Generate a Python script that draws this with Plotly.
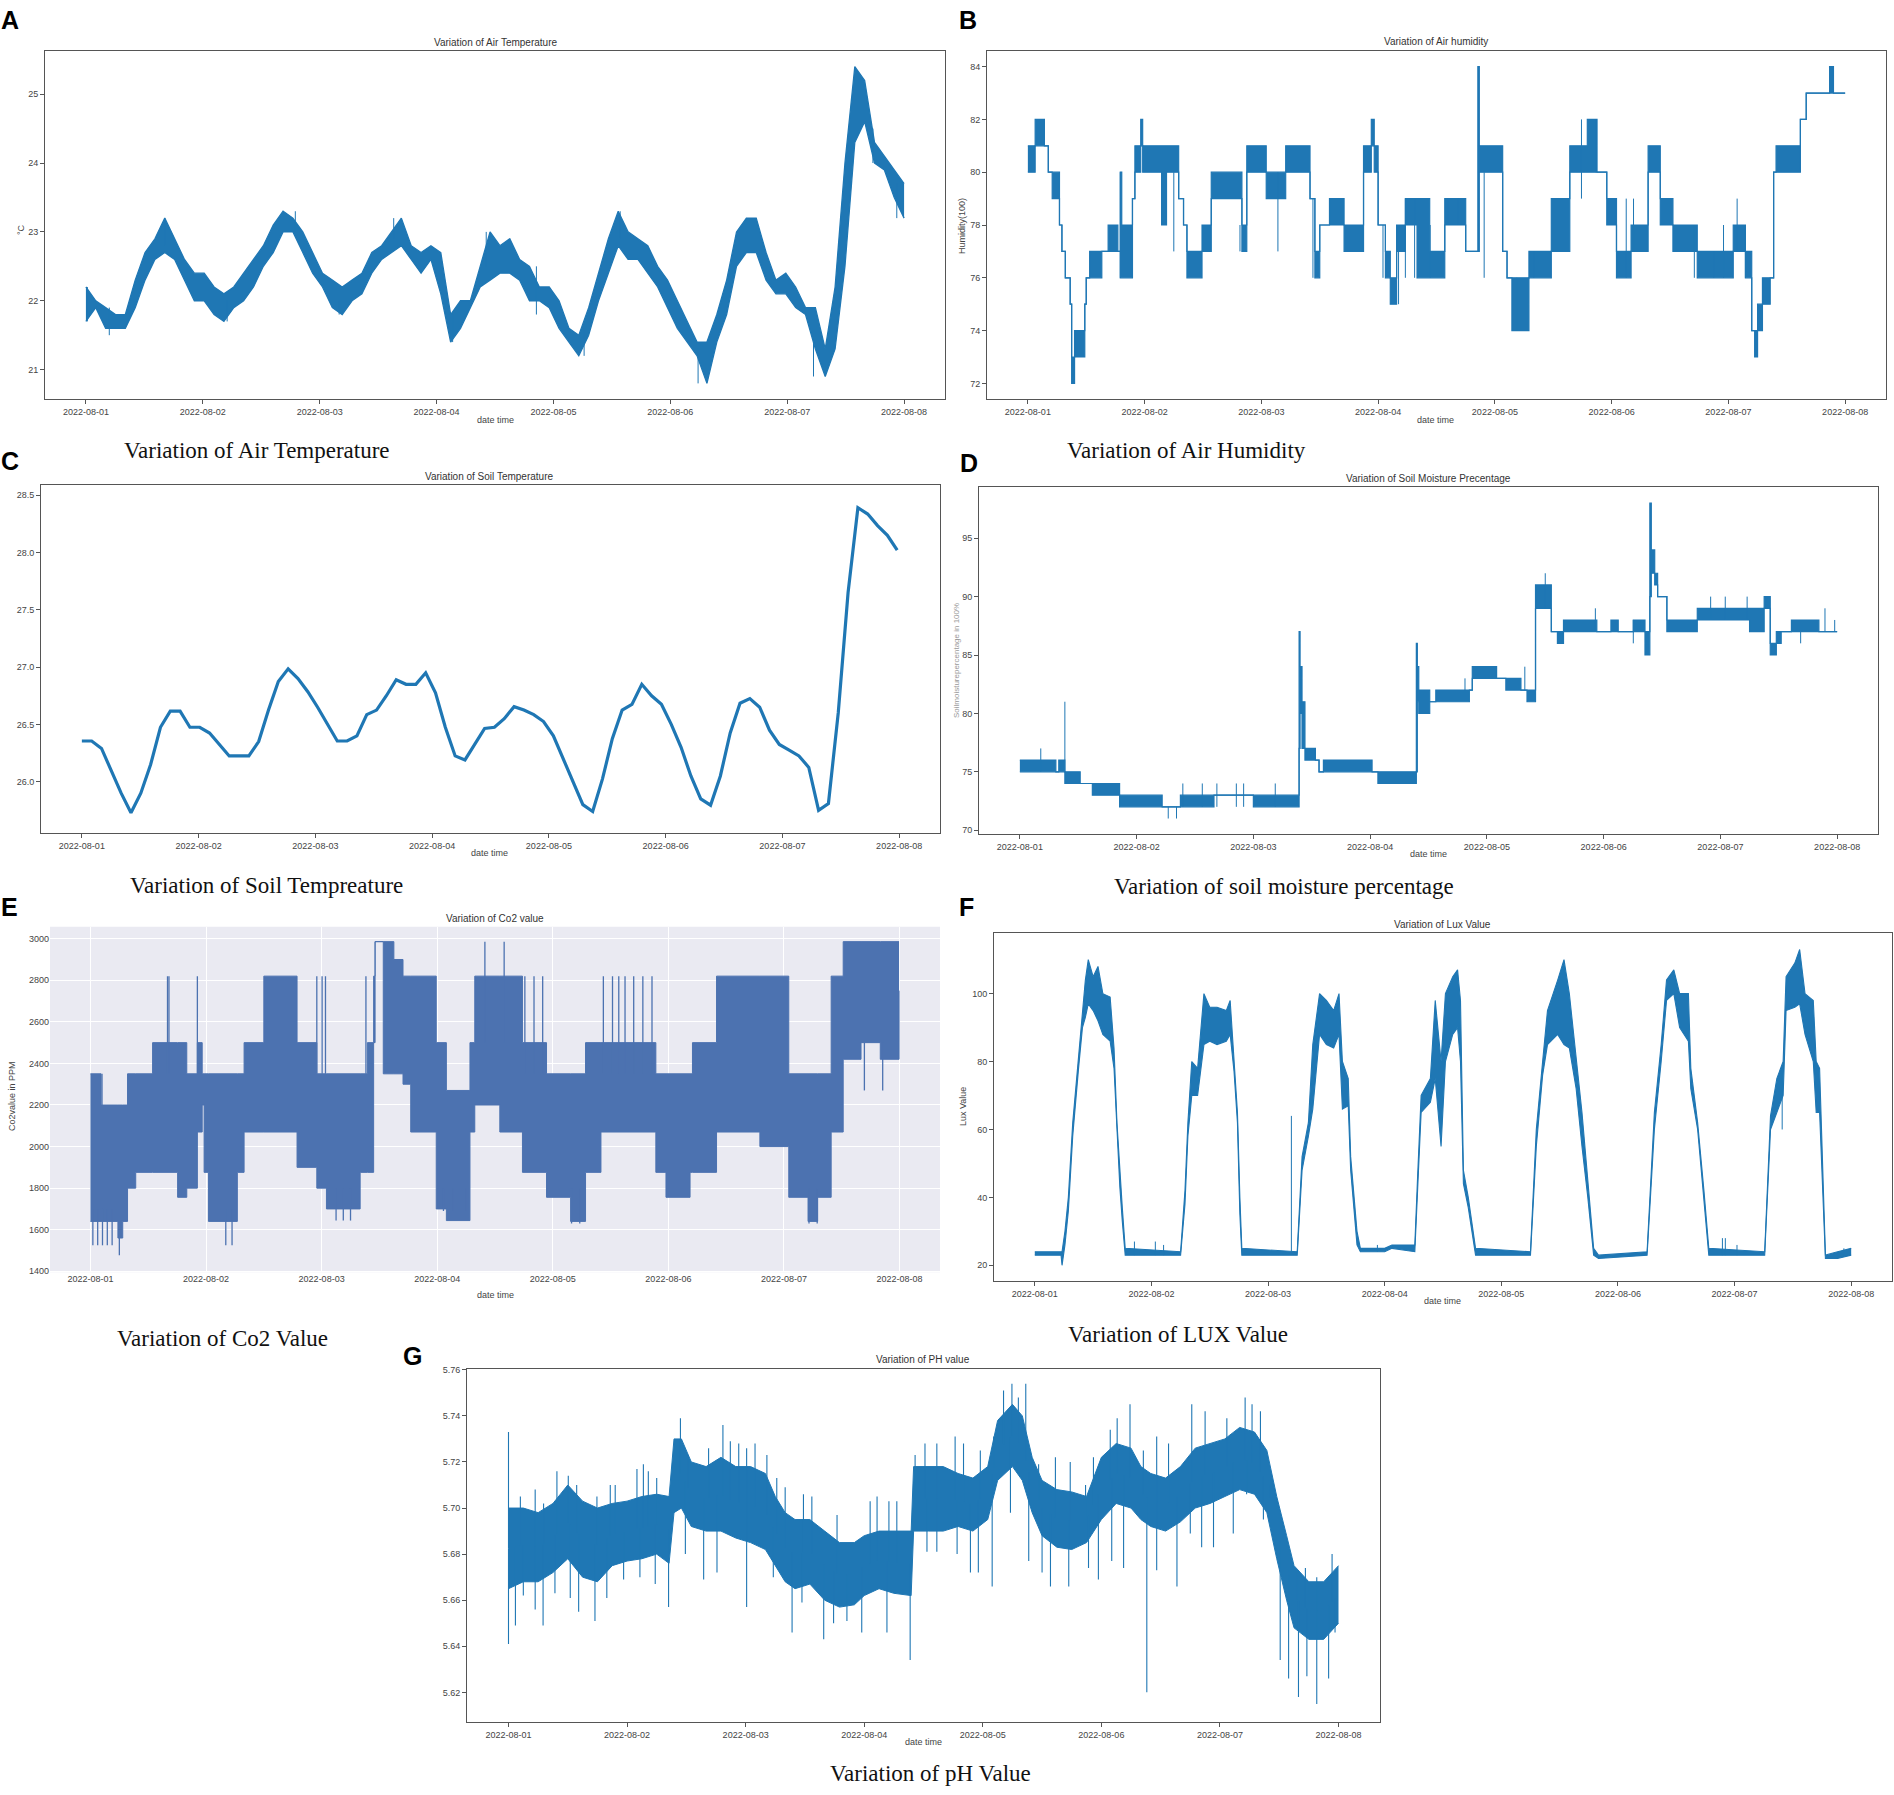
import numpy as np
import pandas as pd
import plotly.graph_objects as go

W, H = 1894, 1795
START = pd.Timestamp("2022-08-01")

date_ticks = ["2022-08-01", "2022-08-02", "2022-08-03", "2022-08-04",
              "2022-08-05", "2022-08-06", "2022-08-07", "2022-08-08"]

# ---------------- A: air temperature (2-hour bins, low/high of readings) ----------------
air_temp_lo = [21.7, 21.9, 21.6, 21.6, 21.6, 21.9, 22.3, 22.6, 22.7, 22.6, 22.3, 22.0,
               22.0, 21.8, 21.7, 21.9, 22.0, 22.2, 22.5, 22.7, 23.0, 23.0, 22.7, 22.4,
               22.2, 21.9, 21.8, 22.0, 22.1, 22.4, 22.6, 22.7, 22.8, 22.6, 22.4, 22.6,
               22.1, 21.4, 21.6, 21.9, 22.2, 22.3, 22.4, 22.4, 22.3, 22.0, 22.0, 21.9,
               21.6, 21.4, 21.2, 21.5, 22.0, 22.4, 22.8, 22.6, 22.6, 22.4, 22.2, 21.9,
               21.6, 21.4, 21.2, 20.8, 21.4, 21.8, 22.5, 22.7, 22.7, 22.3, 22.1, 22.1,
               21.9, 21.8, 21.3, 20.9, 21.3, 22.5, 24.3, 24.6, 24.0, 23.9, 23.5, 23.2]
air_temp_hi = [22.2, 22.0, 21.9, 21.8, 21.8, 22.3, 22.7, 22.9, 23.2, 22.9, 22.6, 22.4,
               22.4, 22.2, 22.1, 22.2, 22.4, 22.6, 22.8, 23.1, 23.3, 23.2, 23.0, 22.7,
               22.4, 22.3, 22.2, 22.3, 22.4, 22.7, 22.8, 23.0, 23.2, 22.8, 22.7, 22.8,
               22.7, 21.8, 22.0, 22.0, 22.5, 23.0, 22.8, 22.9, 22.6, 22.5, 22.2, 22.2,
               22.0, 21.6, 21.5, 21.9, 22.4, 22.9, 23.3, 23.0, 22.9, 22.8, 22.5, 22.3,
               22.0, 21.7, 21.4, 21.4, 21.8, 22.3, 23.0, 23.2, 23.2, 22.7, 22.3, 22.4,
               22.2, 21.9, 21.9, 21.3, 22.2, 24.0, 25.4, 25.2, 24.3, 24.1, 23.9, 23.7]
air_temp_spike_h = [0.3, 4.8, 16.2, 29.0, 43.0, 52.0, 63.2, 75.3, 82.2, 92.5, 102.3, 109.7, 125.7, 149.4, 161.6, 166.5]
air_temp_spike_lo = [21.7, 21.5, 22.8, 21.7, 23.0, 21.8, 22.9, 21.4, 22.5, 21.8, 21.2, 22.9, 20.8, 20.9, 24.0, 23.2]
air_temp_spike_hi = [22.2, 21.9, 23.2, 22.0, 23.3, 22.0, 23.2, 21.8, 23.0, 22.5, 21.6, 23.3, 21.3, 21.4, 24.5, 23.7]

# ---------------- B: air humidity (step readings) ----------------
hum_h = [0, 1.5, 3.4, 4.2, 5, 6.5, 7, 7.7, 8.7, 9, 9.6, 11.7, 12, 12.7, 15.2, 16.5, 18.5, 19, 19.3, 21.5,
         22, 23.2, 23.6, 27.5, 28.5, 31, 32, 32.7, 35.8, 37.7, 44, 45, 49, 53, 58, 59, 60, 62, 65, 69,
         70.6, 71.2, 72, 73.5, 74.5, 75.8, 77.6, 80, 82.6, 85.7, 90, 92.5, 92.8, 97.6, 98.5, 99.5, 103, 107.6, 111.4, 115,
         117, 119, 121, 124, 127.5, 130, 132.6, 137.6, 145, 147.5, 148.8, 149.4, 150, 151, 152.6, 153.3, 153.8, 158.8, 160, 164.8,
         165.6, 168]
hum_lo = [80, 81, 81, 80, 79, 78, 77, 76, 75, 72, 73, 75, 76, 76, 77, 77, 77, 76, 76, 79,
          80, 81, 80, 78, 80, 79, 78, 76, 77, 79, 77, 80, 79, 80, 79, 76, 78, 78, 77, 80,
          81, 80, 78, 76, 75, 77, 78, 76, 76, 78, 77, 77, 80, 77, 76, 74, 76, 77, 80, 80,
          80, 78, 76, 77, 80, 78, 77, 76, 77, 76, 74, 73, 74, 75, 76, 80, 80, 82, 83, 83,
          83, 83]
hum_hi = [81, 82, 81, 80, 80, 78, 77, 76, 75, 73, 74, 75, 76, 77, 77, 78, 77, 80, 78, 79,
          81, 82, 81, 81, 81, 79, 78, 77, 78, 80, 78, 81, 80, 81, 79, 77, 78, 79, 78, 81,
          82, 81, 78, 77, 76, 78, 79, 79, 77, 79, 77, 84, 81, 77, 76, 76, 77, 79, 81, 82,
          80, 79, 77, 78, 81, 79, 78, 77, 78, 77, 74, 74, 75, 76, 76, 80, 81, 82, 83, 84,
          83, 83]
hum_spike_h = [19.0, 27.5, 30.0, 43.6, 51.4, 58.6, 73.0, 76.2, 77.6, 79.5, 82.7, 86.3, 88.5, 93.8, 100.5,
               104.0, 113.8, 116.7, 123.0, 124.5, 137.0, 141.0, 143.0, 145.8, 147.5, 165.0]
hum_spike_lo = [76, 78, 77, 77, 77, 76, 76, 75, 76, 76, 76, 78, 78, 76, 74, 76, 79, 80, 76, 77, 76, 76, 76, 77, 76, 83]
hum_spike_hi = [80, 80, 80, 78, 80, 79, 78, 78, 79, 79, 78, 79, 79, 80, 76, 77, 82, 82, 79, 79, 78, 77, 78, 79, 78, 84]

# ---------------- C: soil temperature (2-hour bins) ----------------
soil_temp_lo = [26.33, 26.33, 26.25, 26.05, 25.85, 25.70, 25.85, 26.10, 26.40, 26.60, 26.60, 26.45,
                26.45, 26.40, 26.30, 26.20, 26.20, 26.20, 26.30, 26.55, 26.80, 26.97, 26.85, 26.75,
                26.60, 26.45, 26.33, 26.33, 26.35, 26.55, 26.60, 26.70, 26.85, 26.82, 26.82, 26.90,
                26.70, 26.40, 26.20, 26.13, 26.30, 26.43, 26.45, 26.50, 26.63, 26.60, 26.55, 26.50,
                26.35, 26.15, 25.95, 25.75, 25.70, 25.95, 26.30, 26.60, 26.65, 26.82, 26.72, 26.65,
                26.45, 26.25, 26.00, 25.80, 25.77, 26.00, 26.35, 26.65, 26.70, 26.60, 26.40, 26.30,
                26.25, 26.20, 26.10, 25.70, 25.77, 26.30, 27.30, 28.35, 28.30, 28.20, 28.12, 28.02]
soil_temp_hi = [26.38, 26.38, 26.33, 26.15, 25.95, 25.76, 25.95, 26.20, 26.55, 26.63, 26.63, 26.50,
                26.50, 26.45, 26.35, 26.25, 26.25, 26.25, 26.40, 26.70, 26.95, 27.00, 26.95, 26.82,
                26.70, 26.55, 26.38, 26.38, 26.45, 26.62, 26.65, 26.80, 26.93, 26.88, 26.88, 27.00,
                26.85, 26.55, 26.25, 26.25, 26.35, 26.50, 26.50, 26.60, 26.68, 26.65, 26.62, 26.55,
                26.45, 26.25, 26.05, 25.85, 25.78, 26.10, 26.45, 26.65, 26.70, 26.88, 26.78, 26.70,
                26.55, 26.35, 26.10, 25.90, 25.82, 26.10, 26.50, 26.72, 26.75, 26.70, 26.50, 26.35,
                26.30, 26.25, 26.15, 25.80, 25.85, 26.90, 28.00, 28.43, 28.37, 28.27, 28.18, 28.02]

# ---------------- D: soil moisture (step readings) ----------------
moist_h = [0, 7.4, 8, 9.25, 12.4, 14.9, 20.5, 29.25, 33, 39.9, 48, 57.4, 57.6, 58, 58.6, 60.75, 61.5, 62.4, 72.4, 73.6,
           81.5, 81.7, 82, 84.25, 85.5, 92.4, 93, 98, 99.9, 103, 104.25, 106, 107.5, 109.25, 110.5, 111.75, 118.6, 121.5, 123, 126.1,
           128.5, 129.5, 129.8, 130.5, 131.1, 133, 139.25, 146.75, 150, 153, 154.25, 155.5, 156.5, 158.6, 164.25, 168]
moist_lo = [75, 75, 75, 74, 74, 73, 72, 72, 72, 73, 72, 77, 80, 77, 76, 76, 75, 75, 75, 74,
            75, 81, 80, 81, 81, 82, 83, 83, 82, 82, 81, 89, 89, 87, 86, 87, 87, 87, 87, 87,
            85, 90, 92, 91, 90, 87, 88, 88, 87, 89, 85, 86, 87, 87, 87, 87]
moist_hi = [76, 75, 76, 75, 74, 74, 73, 72, 73, 73, 73, 87, 84, 81, 77, 76, 75, 76, 75, 75,
            86, 84, 82, 81, 82, 82, 84, 83, 83, 82, 82, 91, 91, 87, 87, 88, 87, 88, 87, 88,
            87, 98, 94, 92, 90, 88, 89, 89, 89, 90, 86, 87, 87, 88, 87, 87]
moist_spike_h = [4.3, 9.25, 30.5, 32.2, 33.5, 37.5, 40.5, 44.5, 46.0, 52.5, 81.6, 91.5, 103.8, 108.0,
                 118.3, 126.1, 128.8, 142.0, 145.0, 149.5, 160.5, 165.5, 167.5]
moist_spike_lo = [75, 75, 71, 71, 72, 72, 72, 72, 72, 72, 80, 82, 82, 89, 87, 86, 85, 88, 88, 88, 86, 87, 87]
moist_spike_hi = [77, 81, 72, 72, 74, 74, 74, 74, 74, 74, 86, 83, 84, 92, 89, 88, 87, 90, 90, 90, 87, 89, 88]

# ---------------- E: CO2 (step envelope of readings) ----------------
co2_h = [0, 2.2, 5.7, 6.7, 7.7, 9.4, 12.9, 18.1, 20, 22.2, 23.2, 23.6, 24.5, 30.5, 31.9, 36, 42.9, 47, 49, 56,
         57.5, 58.8, 59.1, 60.8, 63, 64.9, 66.5, 71.8, 73.9, 78.8, 79.8, 85, 89.7, 94.7, 99.7, 102.8, 106, 117.4, 119.5, 124.5,
         125, 130, 139, 145, 149, 151, 153.8, 156.3, 160, 164, 167.9]
co2_lo = [1640, 1640, 1560, 1640, 1800, 1876, 1876, 1756, 1800, 2070, 2200, 1876, 1640, 1876, 2070, 2070, 1900, 1800, 1700, 1876,
          1876, 2500, 2986, 2350, 2350, 2300, 2070, 1700, 1644, 2070, 2200, 2070, 1876, 1756, 1640, 1876, 2070, 1876, 1756, 1876,
          1876, 2070, 2000, 1756, 1640, 1756, 2070, 2420, 2500, 2420, 2750]
co2_hi = [2350, 2200, 2200, 2200, 2350, 2350, 2500, 2500, 2350, 2500, 2350, 2350, 2350, 2350, 2500, 2820, 2500, 2350, 2350, 2350,
          2500, 2820, 2986, 2986, 2900, 2820, 2820, 2500, 2270, 2500, 2820, 2820, 2500, 2350, 2350, 2500, 2500, 2350, 2350, 2350,
          2500, 2820, 2820, 2350, 2350, 2350, 2820, 2986, 2986, 2986, 2986]
co2_spike_h = [16.0, 16.3, 22.2, 47.0, 48.1, 48.8, 57.2, 81.9, 85.9, 90.2, 92.1, 93.9,
               106.5, 108.4, 109.7, 111.0, 112.8, 114.7, 116.6, 2.4,
               0.5, 1.5, 2.5, 3.5, 4.5, 6.0, 28.1, 29.4, 51.0, 52.5, 54.0, 73.3, 75.3, 78.0,
               99.9, 101.6, 149.2, 150.9, 160.7, 164.5]
co2_spike_lo = [2350, 2350, 2350, 2350, 2350, 2350, 2350, 2500, 2500, 2350, 2350, 2350,
                2350, 2350, 2350, 2350, 2350, 2350, 2350, 2200,
                1525, 1525, 1525, 1525, 1525, 1477, 1525, 1525, 1644, 1644, 1644, 1690, 1690, 1690,
                1630, 1630, 1630, 1630, 2270, 2270]
co2_spike_hi = [2820, 2820, 2820, 2820, 2820, 2820, 2820, 2986, 2986, 2820, 2820, 2820,
                2820, 2820, 2820, 2820, 2820, 2820, 2820, 2350,
                1700, 1700, 1700, 1700, 1700, 1600, 1700, 1700, 1800, 1800, 1800, 1800, 1800, 1800,
                1800, 1800, 1800, 1800, 2500, 2500]

# ---------------- F: lux ----------------
lux_h = [0, 5.4, 5.6, 6.2, 6.9, 7.8, 9, 9.8, 10.4, 11, 12, 13, 14, 15.5, 16.3, 16.9, 17.5, 18, 18.6, 30,
         30.9, 31.5, 32.3, 33.5, 34.8, 36, 37.5, 39.4, 40.2, 41, 41.7, 42.2, 42.6, 54, 55, 56.3, 57.2, 58.6, 60, 61.5,
         62.6, 63.3, 64.5, 65, 66.3, 67, 72, 73.5, 78.2, 78.8, 79.5, 81.4, 82.4, 83.6, 84.5, 86, 87, 87.6, 88.2, 89.2,
         90.7, 102, 103.2, 104.5, 105.5, 107.6, 108.9, 110, 111.4, 112.6, 113.8, 115, 116, 126, 127.5, 128.9, 130, 131.5, 132.7, 134.5,
         135, 136.4, 137.7, 138.7, 150.2, 151.4, 152.7, 154, 154.6, 156.4, 157.4, 158.5, 160.2, 160.8, 161.5, 162.2, 162.7, 165.2, 168]
lux_lo = [23, 23, 20, 26, 36, 58, 78, 90, 93, 97, 95, 92, 88, 86, 78, 58, 43, 33, 23, 23,
          38, 58, 70, 70, 85, 86, 85, 86, 88, 77, 62, 35, 23, 23, 48, 58, 66, 88, 85, 84,
          88, 66, 67, 48, 26, 24, 24, 25, 24, 43, 65, 68, 75, 55, 80, 88, 90, 80, 44, 37,
          23, 23, 55, 76, 85, 88, 85, 84, 72, 55, 40, 23, 22, 23, 60, 80, 98, 100, 90, 86,
          72, 60, 38, 23, 23, 60, 65, 70, 95, 96, 97, 88, 80, 65, 65, 40, 22, 22, 23]
lux_hi = [24, 24, 24, 30, 40, 62, 82, 95, 104, 110, 105, 108, 100, 99, 84, 62, 47, 37, 25, 24,
          42, 62, 80, 78, 100, 96, 96, 95, 98, 82, 65, 40, 25, 24, 52, 62, 85, 100, 98, 95,
          100, 80, 75, 52, 30, 25, 25, 26, 26, 47, 70, 75, 98, 80, 100, 105, 107, 98, 48, 40,
          25, 24, 60, 80, 95, 104, 110, 100, 80, 65, 45, 25, 23, 24, 65, 85, 104, 107, 100, 100,
          78, 62, 42, 25, 24, 64, 75, 80, 105, 109, 113, 100, 98, 80, 78, 42, 23, 24, 25]
lux_spike_h = [20.5, 24.8, 26.5, 52.8, 70.5, 141.5, 142.1, 144.5, 153.8, 166.5]
lux_spike_lo = [23, 23, 23, 24, 24, 23, 23, 23, 60, 23]
lux_spike_hi = [27, 27, 26, 64, 26, 28, 28, 26, 75, 25]

# ---------------- G: pH (dense band + spike tips) ----------------
ph_h = [0, 3, 6, 9, 12, 15, 18, 21, 24, 27, 30, 32.5, 33.5, 35, 37, 40, 43, 46, 49, 52,
        54, 56, 58, 61, 64, 67, 70, 72, 75, 78, 81.5, 82, 85, 88, 91, 94, 97, 99, 102, 104,
        106, 108, 111, 114, 117, 120, 123, 126, 128, 130, 133, 136, 139, 142, 145, 148, 151, 153.5, 155.5, 157.5,
        159, 162, 165, 168]
ph_lo = [5.665, 5.668, 5.668, 5.672, 5.678, 5.670, 5.668, 5.675, 5.677, 5.678,
         5.680, 5.676, 5.698, 5.700, 5.692, 5.690, 5.690, 5.687, 5.685, 5.682,
         5.675, 5.668, 5.665, 5.667, 5.660, 5.657, 5.658, 5.662, 5.665, 5.663,
         5.662, 5.690, 5.690, 5.690, 5.692, 5.690, 5.695, 5.712, 5.718, 5.712,
         5.698, 5.688, 5.683, 5.682, 5.685, 5.695, 5.702, 5.700, 5.695, 5.692,
         5.690, 5.694, 5.700, 5.702, 5.705, 5.708, 5.706, 5.698, 5.678, 5.660,
         5.648, 5.643, 5.643, 5.650]
ph_hi = [5.700, 5.700, 5.698, 5.702, 5.710, 5.703, 5.700, 5.702, 5.703, 5.705,
         5.706, 5.705, 5.730, 5.730, 5.720, 5.718, 5.722, 5.718, 5.718, 5.715,
         5.705, 5.698, 5.695, 5.695, 5.690, 5.685, 5.685, 5.688, 5.690, 5.690,
         5.690, 5.718, 5.718, 5.718, 5.715, 5.713, 5.718, 5.738, 5.745, 5.740,
         5.722, 5.712, 5.708, 5.707, 5.705, 5.722, 5.728, 5.726, 5.718, 5.715,
         5.713, 5.718, 5.726, 5.728, 5.730, 5.735, 5.733, 5.725, 5.705, 5.688,
         5.675, 5.668, 5.668, 5.675]
ph_top_h = [0.0, 2.4, 5.4, 7.1, 9.8, 12.1, 13.8, 17.9, 20.6, 21.6, 26.0, 27.3, 28.3, 30.0, 34.8, 36.4,
            40.5, 43.4, 44.9, 46.6, 48.2, 49.9, 52.3, 54.3, 56.0, 59.7, 61.4, 66.5, 73.2, 74.6, 77.0, 78.6,
            82.3, 84.3, 86.7, 90.4, 92.1, 95.5, 98.2, 100.2, 101.9, 103.2, 104.7, 107.3, 110.7, 113.7,
            116.8, 118.4, 121.8, 123.2, 125.8, 128.5, 131.2, 133.6, 138.3, 141.0, 145.4, 149.1, 150.5,
            152.2, 154.2, 159.6, 161.3, 163.6, 166.7]
ph_top_v = [5.733, 5.705, 5.708, 5.702, 5.716, 5.714, 5.710, 5.705, 5.710, 5.710, 5.717, 5.719, 5.716, 5.713, 5.739, 5.723,
            5.726, 5.736, 5.729, 5.728, 5.726, 5.728, 5.723, 5.713, 5.709, 5.706, 5.705, 5.697, 5.703, 5.705, 5.703, 5.703,
            5.723, 5.728, 5.728, 5.731, 5.728, 5.725, 5.731, 5.751, 5.754, 5.748, 5.754, 5.719, 5.722, 5.720,
            5.710, 5.722, 5.734, 5.739, 5.745, 5.725, 5.731, 5.728, 5.745, 5.742, 5.739, 5.748, 5.745,
            5.742, 5.710, 5.672, 5.674, 5.670, 5.680]
ph_bot_h = [0.0, 1.4, 3.0, 5.4, 7.0, 9.4, 12.5, 14.2, 17.5, 19.9, 23.3, 26.6, 29.7, 32.4, 35.8, 39.5,
            42.2, 48.2, 53.6, 57.4, 59.4, 63.8, 65.8, 68.5, 71.5, 76.6, 81.3, 84.7, 86.7, 90.8, 93.5, 95.1,
            97.9, 101.6, 105.3, 108.0, 109.7, 113.4, 117.4, 119.4, 122.1, 124.5, 129.2, 131.2, 135.3, 138.0,
            140.3, 142.7, 146.7, 149.4, 152.8, 156.2, 157.9, 159.9, 161.6, 163.6, 166.0, 167.3]
ph_bot_v = [5.641, 5.649, 5.662, 5.656, 5.649, 5.663, 5.661, 5.655, 5.651, 5.661, 5.669, 5.670, 5.667, 5.657, 5.680, 5.669,
            5.672, 5.657, 5.670, 5.646, 5.659, 5.643, 5.650, 5.651, 5.646, 5.646, 5.634, 5.681, 5.681, 5.680, 5.672, 5.672,
            5.666, 5.698, 5.677, 5.672, 5.666, 5.666, 5.674, 5.669, 5.677, 5.674, 5.620, 5.673, 5.666, 5.689,
            5.683, 5.683, 5.689, 5.706, 5.695, 5.634, 5.626, 5.618, 5.627, 5.615, 5.626, 5.646]

# ---------------- text ----------------
plot_titles = ["Variation of Air Temperature", "Variation of Air humidity", "Variation of Soil Temperature",
               "Variation of Soil Moisture Precentage", "Variation of Co2 value", "Variation of Lux Value",
               "Variation of PH value"]
captions = ["Variation of Air Temperature", "Variation of Air Humidity", "Variation of Soil Tempreature",
            "Variation of soil moisture percentage", "Variation of Co2 Value", "Variation of LUX Value",
            "Variation of pH Value"]
panel_letters = ["A", "B", "C", "D", "E", "F", "G"]
y_titles = ["°C", "Humidity(100)", "", "Soilmoisturepercentage in 100%", "Co2value in PPM", "Lux Value", ""]
y_ticks = [[21, 22, 23, 24, 25],
           [72, 74, 76, 78, 80, 82, 84],
           [26.0, 26.5, 27.0, 27.5, 28.0, 28.5],
           [70, 75, 80, 85, 90, 95],
           [1400, 1600, 1800, 2000, 2200, 2400, 2600, 2800, 3000],
           [20, 40, 60, 80, 100],
           [5.62, 5.64, 5.66, 5.68, 5.70, 5.72, 5.74, 5.76]]

# ---------------- layout geometry (pixels) ----------------
boxes = [(45, 945, 47, 397), (987, 1886, 47, 397), (41, 940, 483, 833), (979, 1878, 485, 834),
         (50, 940, 927, 1274), (994, 1892, 933, 1283), (467, 1380, 1371, 1726)]
y_ranges = [[20.57, 25.63], [71.4, 84.6], [25.55, 28.59], [69.65, 99.4],
            [1395, 3057], [15.3, 117.9], [5.607, 5.7604]]
y_fmt = ["d", "d", ".1f", "d", "d", "d", ".2f"]
title_pos = [(495, 39), (1436, 38), (489, 475), (1428, 477), (495, 919), (1442, 925), (923, 1362)]
xlabel_pos = [(495, 418), (1435, 418), (489, 853), (1428, 854), (495, 1297), (1442, 1303), (923, 1746)]
ylabel_pos = [(21, 227), (962, 223), None, (956, 660), (12, 1097), (963, 1108), None]
caption_pos = [(257, 448), (1186, 448), (266, 885), (1284, 886), (222, 1340), (1178, 1336), (930, 1777)]
letter_pos = [(10, 16), (968, 16), (10, 459), (969, 461), (9, 907), (966, 907), (412, 1358)]

MPL_BLUE = "#1f77b4"
SNS_BLUE = "#4C72B0"


def to_dt(hours):
    return [START + pd.Timedelta(hours=float(h)) for h in hours]


fig = go.Figure()


def axis_names(i):
    return ("x" if i == 0 else f"x{i+1}"), ("y" if i == 0 else f"y{i+1}")


def add_band(i, hours, lo, hi, color, shape="linear", width=1.3):
    xa, ya = axis_names(i)
    xs = to_dt(hours)
    fig.add_trace(go.Scatter(x=xs, y=lo, mode="lines", xaxis=xa, yaxis=ya,
                             line=dict(color=color, width=width, shape=shape),
                             showlegend=False, hoverinfo="skip"))
    fig.add_trace(go.Scatter(x=xs, y=hi, mode="lines", xaxis=xa, yaxis=ya,
                             line=dict(color=color, width=width, shape=shape),
                             fill="tonexty", fillcolor=color,
                             showlegend=False, hoverinfo="skip"))


def add_line(i, hours, vals, color, width):
    xa, ya = axis_names(i)
    fig.add_trace(go.Scatter(x=to_dt(hours), y=vals, mode="lines", xaxis=xa, yaxis=ya,
                             line=dict(color=color, width=width),
                             showlegend=False, hoverinfo="skip"))


def add_spikes(i, hours, lo, hi, color, width=1.0):
    xa, ya = axis_names(i)
    xs, ys = [], []
    for d, a, b in zip(to_dt(hours), lo, hi):
        xs += [d, d, None]
        ys += [a, b, None]
    fig.add_trace(go.Scatter(x=xs, y=ys, mode="lines", xaxis=xa, yaxis=ya,
                             line=dict(color=color, width=width),
                             showlegend=False, hoverinfo="skip"))


bin_hours = [k * 168.0 / (len(air_temp_lo) - 1) for k in range(len(air_temp_lo))]
soil_bin_hours = [k * 167.6 / (len(soil_temp_lo) - 1) for k in range(len(soil_temp_lo))]

# A
add_band(0, bin_hours, air_temp_lo, air_temp_hi, MPL_BLUE)
add_spikes(0, air_temp_spike_h, air_temp_spike_lo, air_temp_spike_hi, MPL_BLUE)
# B
add_band(1, hum_h, hum_lo, hum_hi, MPL_BLUE, shape="hv", width=1.2)
add_spikes(1, hum_spike_h, hum_spike_lo, hum_spike_hi, MPL_BLUE)
# C (reading line)
soil_mid = [(a + b) / 2 for a, b in zip(soil_temp_lo, soil_temp_hi)]
add_line(2, soil_bin_hours, soil_mid, MPL_BLUE, 3.2)
# D
add_band(3, moist_h, moist_lo, moist_hi, MPL_BLUE, shape="hv", width=1.2)
add_spikes(3, moist_spike_h, moist_spike_lo, moist_spike_hi, MPL_BLUE)
# E
add_band(4, co2_h, co2_lo, co2_hi, SNS_BLUE, shape="hv", width=1.0)
add_spikes(4, co2_spike_h, co2_spike_lo, co2_spike_hi, SNS_BLUE, width=1.3)
# F
add_band(5, lux_h, lux_lo, lux_hi, MPL_BLUE, width=1.1)
add_spikes(5, lux_spike_h, lux_spike_lo, lux_spike_hi, MPL_BLUE)
# G
add_band(6, ph_h, ph_lo, ph_hi, MPL_BLUE, width=1.0)
ph_mid = [(a + b) / 2 for a, b in zip(ph_lo, ph_hi)]
top_base = list(np.interp(ph_top_h, ph_h, ph_mid))
bot_base = list(np.interp(ph_bot_h, ph_h, ph_mid))
add_spikes(6, ph_top_h, top_base, ph_top_v, MPL_BLUE, width=1.1)
add_spikes(6, ph_bot_h, ph_bot_v, bot_base, MPL_BLUE, width=1.1)

x_range = [START - pd.Timedelta(hours=8.4), START + pd.Timedelta(hours=176.4)]
tick_font = dict(family="Liberation Sans, Arial, sans-serif", size=9, color="#444444")

layout = dict(width=W, height=H, margin=dict(l=0, r=0, t=0, b=0), autosize=False,
              paper_bgcolor="white", plot_bgcolor="rgba(0,0,0,0)", showlegend=False)

for i, (x0, x1, y0, y1) in enumerate(boxes):
    xk = "xaxis" if i == 0 else f"xaxis{i+1}"
    yk = "yaxis" if i == 0 else f"yaxis{i+1}"
    xa, ya = axis_names(i)
    seaborn = (i == 4)
    layout[xk] = dict(domain=[x0 / W, x1 / W], anchor=ya, range=x_range,
                      tickvals=date_ticks, ticktext=date_ticks, tickfont=tick_font,
                      showline=not seaborn, mirror=True, linecolor="#555555", linewidth=1,
                      ticks="" if seaborn else "outside", ticklen=4, tickcolor="#555555",
                      showgrid=seaborn, gridcolor="white", gridwidth=1.2, zeroline=False)
    layout[yk] = dict(domain=[1 - y1 / H, 1 - y0 / H], anchor=xa, range=y_ranges[i],
                      tickvals=y_ticks[i], tickformat=y_fmt[i], tickfont=tick_font,
                      showline=not seaborn, mirror=True, linecolor="#555555", linewidth=1,
                      ticks="" if seaborn else "outside", ticklen=4, tickcolor="#555555",
                      showgrid=seaborn, gridcolor="white", gridwidth=1.2, zeroline=False)

fig.update_layout(**layout)

fig.add_shape(type="rect", xref="x5 domain", yref="y5 domain", x0=0, x1=1, y0=0, y1=1,
              fillcolor="#EAEAF2", line_width=0, layer="below")


def ann(px, py, text, size, family, color="#333333", angle=0, anchor="center"):
    fig.add_annotation(x=px / W, y=1 - py / H, xref="paper", yref="paper", text=text,
                       showarrow=False, textangle=angle, xanchor=anchor, yanchor="middle",
                       font=dict(size=size, family=family, color=color))


SANS = "Liberation Sans, Arial, sans-serif"
SERIF = "Liberation Serif, Times New Roman, serif"

for i in range(7):
    ann(*title_pos[i], plot_titles[i], 10, SANS, "#333333")
    ann(*xlabel_pos[i], "date time", 9, SANS, "#444444")
    if ylabel_pos[i] is not None and y_titles[i]:
        col = "#999999" if i == 3 else "#444444"
        ann(*ylabel_pos[i], y_titles[i], 9 if i != 3 else 8, SANS, col, angle=-90)
    ann(*caption_pos[i], captions[i], 23, SERIF, "#111111")
    ann(*letter_pos[i], "<b>" + panel_letters[i] + "</b>", 25, SANS, "#000000")

fig.write_html("out.html", config={"displayModeBar": False},
               post_script="document.body.style.margin='0px';")
